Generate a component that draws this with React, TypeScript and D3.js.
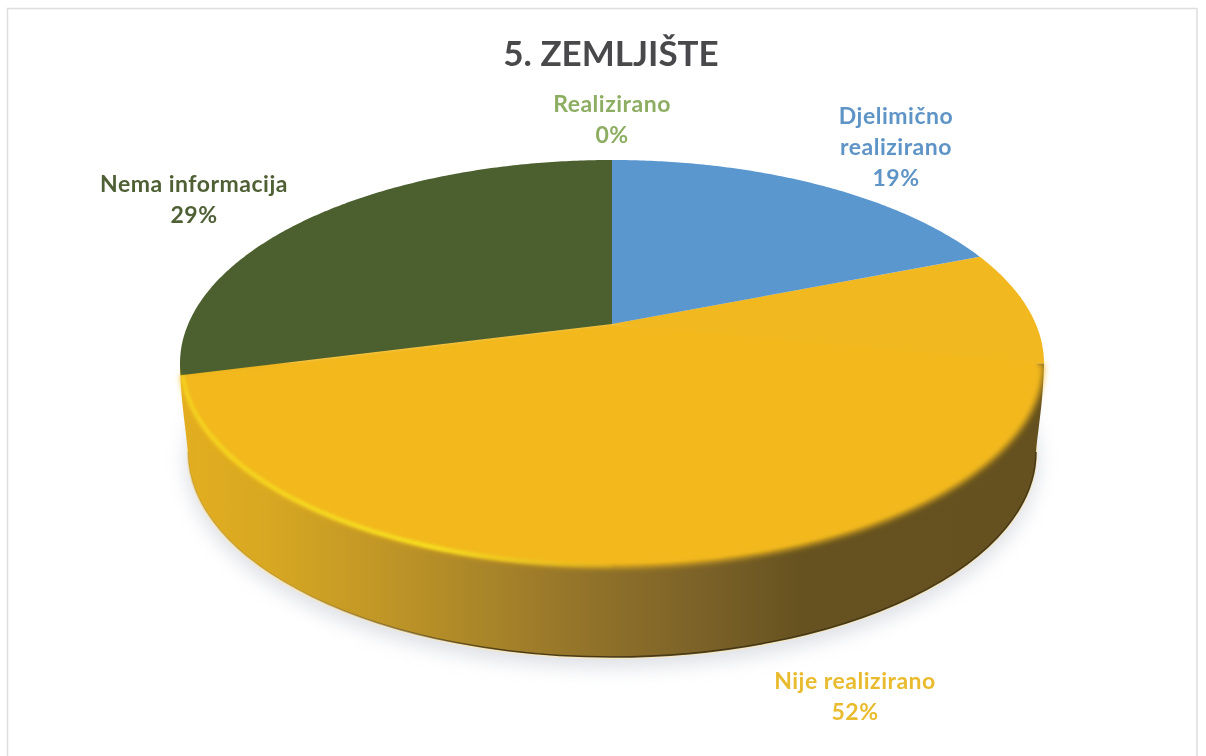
import React from "react";
import * as d3 from "d3";

const categories = ["Realizirano", "Djelimično realizirano", "Nije realizirano", "Nema informacija"];
const values = [0, 19, 52, 29];
const sliceColors = ["#9bbb59", "#5b97cf", "#f2b81f", "#4c5f2e"];
const labelColors = ["#8dae62", "#5f94c6", "#e9bb2d", "#4f6036"];
const labelLines = [["Realizirano", "0%"], ["Djelimično", "realizirano", "19%"], ["Nije realizirano", "52%"], ["Nema informacija", "29%"]];
const labelX = [612, 896, 855, 194];
const labelY = [112, 124, 689, 192];
const title = "5. ZEMLJIŠTE";

const W = 1206, H = 756;
const apex = { x: 612, y: 324 };
const backDist = 164, frontDist = 243, halfW = 432;
const persp = (frontDist - backDist) / (frontDist + backDist);
const sy = (2 * backDist * frontDist) / (frontDist + backDist);
const sx = halfW * Math.sqrt(1 - persp * persp);

// Projective map from the pie's angle onto the tilted disc
const project = (a: number): [number, number] => {
  const u = Math.sin(a), v = Math.cos(a);
  const d = 1 + persp * v;
  return [apex.x + (sx * u) / d, apex.y - (sy * v) / d];
};
const arcPts = (a0: number, a1: number) => {
  const n = Math.max(2, Math.ceil(Math.abs(a1 - a0) / 0.01));
  return d3.range(n + 1).map((i) => project(a0 + ((a1 - a0) * i) / n));
};
const line = d3.line();
const pie = d3.pie<number>().sort(null).value((d) => d).startAngle(0).endAngle(2 * Math.PI);
const arcs = pie(values);

const topCy = apex.y + (frontDist - backDist) / 2;
const baseCy = topCy + 88.5;
const baseRx = 424, baseRy = 205;

const sideStops: [number, string][] = [
  [0, "#e3ae20"], [0.1, "#d8a822"], [0.3, "#b48d28"], [0.45, "#96762a"],
  [0.6, "#7c6228"], [0.72, "#665220"], [1, "#65511f"],
];
const xs = d3.scaleLinear().domain([0, 1]).range([180, 1044]);

export default function App() {
  const yellow = arcs[2];
  const rightExtreme = Math.acos(-persp);
  const leftExtreme = 2 * Math.PI - rightExtreme;
  const sector = (a0: number, a1: number) => `${line([[apex.x, apex.y], ...arcPts(a0, a1)])}Z`;
  const sidePath =
    `M${apex.x - halfW},${topCy}C${apex.x - halfW + 1},${topCy + 40} ${apex.x - baseRx - 3},${baseCy - 30} ${apex.x - baseRx},${baseCy}` +
    `A${baseRx},${baseRy} 0 0 0 ${apex.x + baseRx},${baseCy}` +
    `C${apex.x + baseRx + 3},${baseCy - 30} ${apex.x + halfW - 1},${topCy + 40} ${apex.x + halfW},${topCy}Z`;
  return (
    <svg width={W} height={H} style={{ position: "absolute", left: 0, top: 0, background: "#fff" }}>
      <defs>
        <linearGradient id="side" gradientUnits="userSpaceOnUse" x1={xs(0)} x2={xs(1)} y1={0} y2={0}>
          {sideStops.map(([o, c]) => <stop key={o} offset={o} stopColor={c} />)}
        </linearGradient>
        <linearGradient id="hl" gradientUnits="userSpaceOnUse" x1={180} x2={640} y1={0} y2={0}>
          <stop offset={0} stopColor="#f9e21e" stopOpacity={0.6} />
          <stop offset={0.55} stopColor="#f9e21e" stopOpacity={0.95} />
          <stop offset={0.8} stopColor="#f9d71e" stopOpacity={0.5} />
          <stop offset={1} stopColor="#f9d71e" stopOpacity={0} />
        </linearGradient>
        <linearGradient id="rim" gradientUnits="userSpaceOnUse" x1={300} x2={1040} y1={0} y2={0}>
          <stop offset={0} stopColor="#3a2e10" stopOpacity={0.15} />
          <stop offset={0.3} stopColor="#3a2e10" stopOpacity={0.9} />
          <stop offset={1} stopColor="#3a2e10" stopOpacity={0.9} />
        </linearGradient>
        <filter id="b8" x="-10%" y="-10%" width="120%" height="130%"><feGaussianBlur stdDeviation={9} /></filter>
        <filter id="b3" x="-5%" y="-5%" width="110%" height="110%"><feGaussianBlur stdDeviation={3} /></filter>
        <filter id="b1" x="-5%" y="-5%" width="110%" height="110%"><feGaussianBlur stdDeviation={1.5} /></filter>
        <filter id="t" x="-5%" y="-20%" width="110%" height="140%"><feGaussianBlur stdDeviation={0.5} /></filter>
      </defs>

      <path d={`M7.5,${H}V8.5H1197V${H}`} fill="none" stroke="#dedede" strokeWidth={1.5} />

      <text x={611} y={66} textAnchor="middle" fontFamily="Lato" fontWeight={700} fontSize={35} fill="#4a4a4c" filter="url(#t)">{title}</text>

      <ellipse cx={apex.x} cy={baseCy + 8} rx={baseRx + 3} ry={baseRy + 3} fill="#c9ced6" opacity={0.6} filter="url(#b8)" />
      <ellipse cx={apex.x} cy={baseCy + 1} rx={baseRx + 1.5} ry={baseRy + 1} fill="#f8e8c0" />
      <path d={sidePath} fill="url(#side)" />
      <path d={`M${apex.x - baseRx},${baseCy}A${baseRx},${baseRy} 0 0 0 ${apex.x + baseRx},${baseCy}`} fill="none" stroke="url(#rim)" strokeWidth={1.5} />

      <g>
        <path d={sector(rightExtreme, Math.min(leftExtreme, yellow.endAngle))} fill={sliceColors[2]} filter="url(#b3)" />
        <path
          d={`${line([[apex.x, apex.y], ...arcPts(rightExtreme - 0.1, yellow.endAngle - 0.004).map(([x, y]) => [apex.x + (x - apex.x) * 0.985, apex.y + (y - apex.y) * 0.985] as [number, number])])}Z`}
          fill={sliceColors[2]}
          filter="url(#b1)"
        />
        <path d={sector(yellow.startAngle, rightExtreme)} fill={sliceColors[2]} />
        <path d={sector(leftExtreme - 0.05, yellow.endAngle)} fill={sliceColors[2]} />
        {arcs.map((a, i) => i !== 2 && a.value > 0 && (
          <path key={categories[i]} d={sector(a.startAngle, a.endAngle)} fill={sliceColors[i]} />
        ))}
        <path
          d={line(arcPts(Math.PI, yellow.endAngle - 0.01).map(([x, y]) => [x + (apex.x - x) * 0.004, y - 1.5] as [number, number]))!}
          fill="none" stroke="url(#hl)" strokeWidth={4.5} filter="url(#b1)"
        />
      </g>

      {labelLines.map((lines, i) => (
        <text key={categories[i]} textAnchor="middle" fontFamily="Lato" fontWeight={700} fontSize={23} letterSpacing={0.5} fill={labelColors[i]} filter="url(#t)">
          {lines.map((l, j) => <tspan key={l} x={labelX[i]} y={labelY[i] + j * 31}>{l}</tspan>)}
        </text>
      ))}
    </svg>
  );
}
